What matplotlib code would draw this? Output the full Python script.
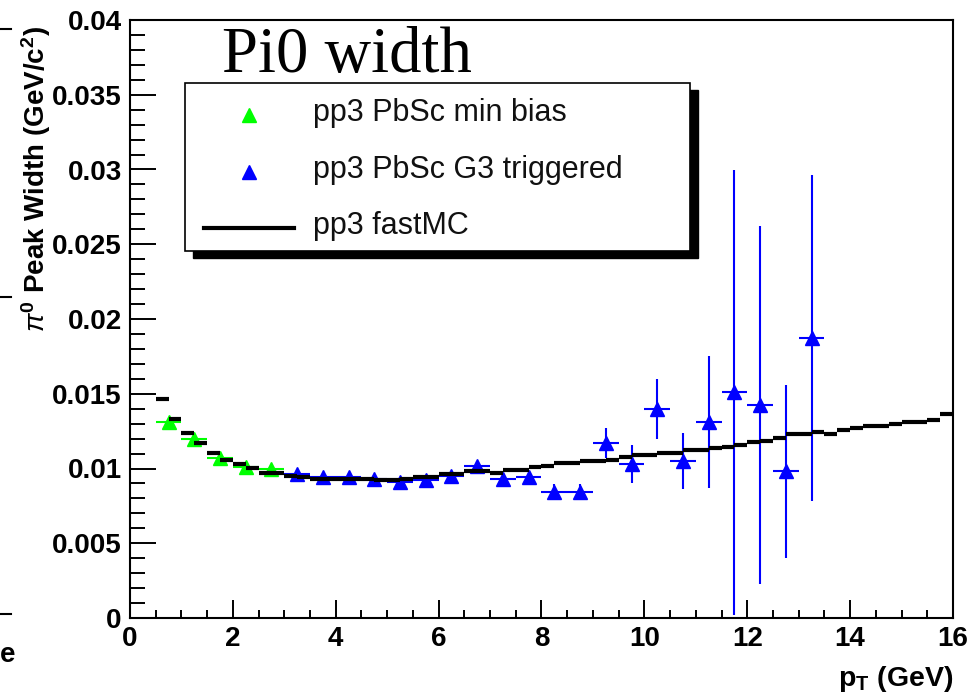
import numpy as np
import matplotlib
matplotlib.use("Agg")
import matplotlib.pyplot as plt
from matplotlib.lines import Line2D
from matplotlib.patches import Rectangle
from matplotlib.ticker import MultipleLocator, FormatStrFormatter

plt.rcParams['font.family'] = ['Liberation Sans', 'DejaVu Sans']
plt.rcParams['mathtext.fontset'] = 'custom'
plt.rcParams['mathtext.rm'] = 'Liberation Sans:bold'
plt.rcParams['mathtext.bf'] = 'Liberation Sans:bold'
plt.rcParams['mathtext.it'] = 'Liberation Sans:italic'

# datos: min bias (verde)
x_minbias = [0.75, 1.25, 1.75, 2.25, 2.75]
y_minbias = [0.0131, 0.0120, 0.0107, 0.0101, 0.0100]
err_minbias = [0.0002, 0.0002, 0.0002, 0.0002, 0.0002]

# datos: G3 triggered (azul)
x_trig = [3.25, 3.75, 4.25, 4.75, 5.25, 5.75, 6.25, 6.75, 7.25, 7.75, 8.25,
          8.75, 9.25, 9.75, 10.25, 10.75, 11.25, 11.75, 12.25, 12.75, 13.25]
y_trig = [0.0096, 0.0094, 0.0094, 0.0093, 0.0091, 0.0092, 0.0095, 0.0102,
          0.0093, 0.00945, 0.00845, 0.00845, 0.0117, 0.0103, 0.0140, 0.0105,
          0.0131, 0.0151, 0.01425, 0.0098, 0.0187]
err_trig = [0.0002, 0.0002, 0.0002, 0.0002, 0.0002, 0.0002, 0.0002, 0.0003,
            0.0003, 0.0004, 0.0005, 0.0005, 0.0010, 0.0013, 0.0020, 0.0019,
            0.0044, 0.0149, 0.0120, 0.0058, 0.0109]
bin_half = 0.25

# fastMC, bins de 0.25 desde 0.5 hasta 16
mc_lo = list(np.arange(0.5, 16.0, 0.25))
mc_vals = [0.01463, 0.01333, 0.01235, 0.01168, 0.01106, 0.01057, 0.0103, 0.01003,
           0.00968, 0.00968, 0.0095, 0.00945, 0.0093, 0.0093, 0.0093, 0.0093,
           0.0093, 0.00925, 0.00925, 0.0093, 0.0094, 0.0094, 0.0096, 0.0096,
           0.0098, 0.0098, 0.0097, 0.0099, 0.0099, 0.01008, 0.01017, 0.01035,
           0.01035, 0.01052, 0.01052, 0.0106, 0.01075, 0.0109, 0.0109, 0.01106,
           0.01106, 0.01124, 0.01124, 0.01135, 0.01146, 0.01157, 0.0118, 0.01186,
           0.01202, 0.01229, 0.01229, 0.01246, 0.01231, 0.01258, 0.01273, 0.01284,
           0.01284, 0.01298, 0.01313, 0.01313, 0.01324, 0.01362]
mc_width = 0.25

W, H = 978, 693
def fx(px):
    return px / W
def fy(py):
    return 1 - py / H

fig = plt.figure(figsize=(W / 100, H / 100), dpi=100)
ax = fig.add_axes([fx(130), fy(618), 823 / W, 598 / H])

green = '#00ff00'
blue = '#0000ff'

ax.errorbar(x_minbias, y_minbias, xerr=bin_half, yerr=err_minbias, fmt='^',
            color=green, ms=10.5, elinewidth=1.5, capsize=0, zorder=3)
ax.errorbar(x_trig, y_trig, xerr=bin_half, yerr=err_trig, fmt='^',
            color=blue, ms=10.5, elinewidth=1.5, capsize=0, zorder=3)
ax.hlines(mc_vals, mc_lo, np.array(mc_lo) + mc_width, color='black', lw=3, zorder=4)

ax.set_xlim(0, 16)
ax.set_ylim(0, 0.04)
ax.xaxis.set_major_locator(MultipleLocator(2))
ax.xaxis.set_minor_locator(MultipleLocator(0.5))
ax.yaxis.set_major_locator(MultipleLocator(0.005))
ax.yaxis.set_minor_locator(MultipleLocator(0.001))
ax.yaxis.set_major_formatter(FormatStrFormatter('%g'))
ax.tick_params(axis='both', which='both', direction='in', width=1.4,
               labelsize=20, pad=6)
ax.tick_params(axis='y', which='major', length=19)
ax.tick_params(axis='y', which='minor', length=10.5)
ax.tick_params(axis='x', which='major', length=13)
ax.tick_params(axis='x', which='minor', length=6)
for lab in ax.get_xticklabels() + ax.get_yticklabels():
    lab.set_fontweight('bold')
for s in ax.spines.values():
    s.set_linewidth(1.5)

# titulos de ejes
fig.text(fx(36), fy(26), r'$\pi^{0}$ Peak Width (GeV/c$^{2}$)', rotation=90,
         ha='center', va='top', fontsize=20, fontweight='bold')
fig.text(fx(953), fy(679), r'$\mathbf{p}_{\mathbf{T}}$ (GeV)', ha='right',
         va='center', fontsize=20.5, fontweight='bold')
fig.text(fx(222), fy(72), 'Pi0 width', family='Liberation Serif', fontsize=46.5,
         va='baseline')

# leyenda estilo ROOT con sombra
bx0, by0, bx1, by1 = 185, 83, 690, 251
fig.add_artist(Rectangle((fx(bx0 + 8), fy(by1 + 7)), (bx1 - bx0) / W, (by1 - by0) / H,
                         transform=fig.transFigure, facecolor='black', edgecolor='black', zorder=5))
fig.add_artist(Rectangle((fx(bx0), fy(by1)), (bx1 - bx0) / W, (by1 - by0) / H,
                         transform=fig.transFigure, facecolor='white', edgecolor='black',
                         lw=1.2, zorder=6))
fig.add_artist(Line2D([fx(249)], [fy(115)], marker='^', color=green, ms=10,
                      transform=fig.transFigure, zorder=7))
fig.add_artist(Line2D([fx(249)], [fy(172)], marker='^', color=blue, ms=10,
                      transform=fig.transFigure, zorder=7))
fig.add_artist(Line2D([fx(204), fx(294)], [fy(228), fy(228)], color='black', lw=3,
                      transform=fig.transFigure, zorder=7))
labels = ['pp3 PbSc min bias', 'pp3 PbSc G3 triggered', 'pp3 fastMC']
for lab, py in zip(labels, [113, 170, 226]):
    t = fig.text(fx(313), fy(py), lab, fontsize=22, va='center', ha='left',
                 color='#111111')
    t.set_zorder(8)

# restos del grafico vecino a la izquierda
for py in [29, 297, 614]:
    fig.add_artist(Line2D([0, fx(11)], [fy(py), fy(py)], color='black', lw=1.5))
fig.text(0.0, fy(655), 'e', fontsize=20, fontweight='bold', ha='left', va='center')

fig.savefig('out.png', dpi=100)
